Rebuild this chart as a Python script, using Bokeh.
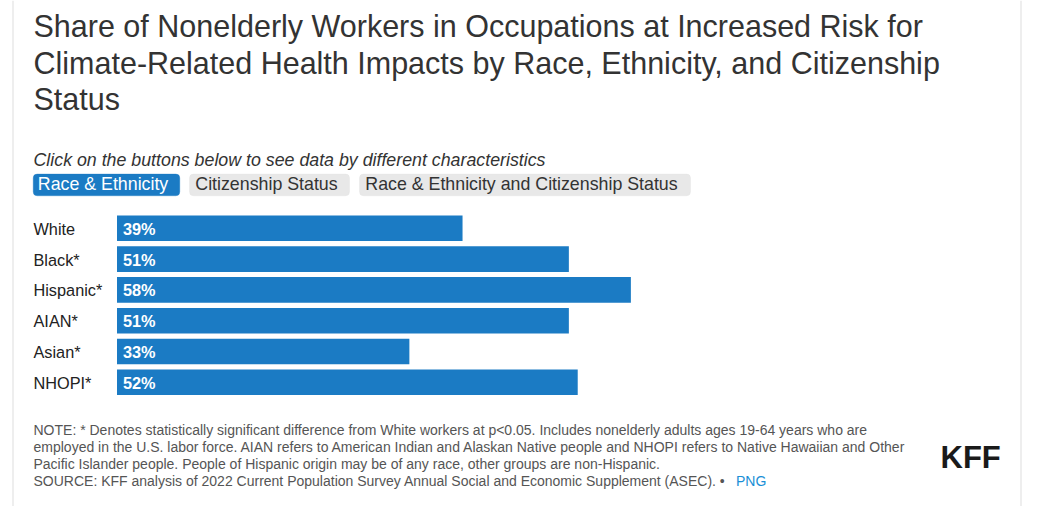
from bokeh.plotting import figure
from bokeh.models import Range1d, BoxAnnotation, Span, ColumnDataSource
from bokeh.core.properties import value
from bokeh.embed import file_html
from bokeh.resources import INLINE

# ---- data ----
categories = ["White", "Black*", "Hispanic*", "AIAN*", "Asian*", "NHOPI*"]
shares = [39, 51, 58, 51, 33, 52]
share_labels = ["39%", "51%", "58%", "51%", "33%", "52%"]

title_lines = [
    "Share of Nonelderly Workers in Occupations at Increased Risk for",
    "Climate-Related Health Impacts by Race, Ethnicity, and Citizenship",
    "Status",
]
subtitle = "Click on the buttons below to see data by different characteristics"
buttons = ["Race & Ethnicity", "Citizenship Status", "Race & Ethnicity and Citizenship Status"]
note_lines = [
    "NOTE: * Denotes statistically significant difference from White workers at p<0.05. Includes nonelderly adults ages 19-64 years who are",
    "employed in the U.S. labor force. AIAN refers to American Indian and Alaskan Native people and NHOPI refers to Native Hawaiian and Other",
    "Pacific Islander people. People of Hispanic origin may be of any race, other groups are non-Hispanic.",
    "SOURCE: KFF analysis of 2022 Current Population Survey Annual Social and Economic Supplement (ASEC). \u2022",
]

# ---- layout constants ----
W, H = 1049, 506
X0 = 116.5          # pixel where 0% sits
S = 8.86            # pixels per percentage point
ROW0 = 227.8        # centre of first bar (pixels from top)
PITCH = 30.8
BAR_H = 25.6
BLUE = "#1b7bc4"
FONT = "Liberation Sans"

p = figure(width=W, height=H, output_backend="svg", toolbar_location=None,
           x_range=Range1d(-X0 / S, (W - X0) / S), y_range=Range1d(H, 0),
           min_border=0, min_border_left=0, min_border_right=0,
           min_border_top=0, min_border_bottom=0)
p.extra_x_ranges = {"px": Range1d(0, W)}
p.axis.visible = False
p.grid.visible = False
p.outline_line_color = None
p.background_fill_color = "white"
p.border_fill_color = "white"

ys = [ROW0 + i * PITCH for i in range(len(categories))]
src = ColumnDataSource(dict(cat=categories, val=shares, lab=share_labels, y=ys,
                            zero=[0] * len(shares)))

p.hbar(y="y", left="zero", right="val", height=BAR_H, source=src,
       fill_color=BLUE, line_color=None)
p.text(x="zero", y="y", text="lab", source=src, x_offset=6, y_offset=0.5,
       text_color="white", text_font=value(FONT), text_font_size="16.3px",
       text_font_style="bold", text_baseline="middle", text_align="left")
p.text(x="zero", y="y", text="cat", source=src, x_offset=33 - X0, y_offset=0.5,
       text_color="#222222", text_font=value(FONT), text_font_size="16.3px",
       text_baseline="middle", text_align="left")


def lab(x, y_base, text, size, color="#333333", style="normal", font=FONT):
    # y_base is the wanted baseline; place the cap-height centre with a middle baseline
    y_mid = y_base - 0.36 * size
    p.text(x=[x], y=[y_mid], text=[text], x_range_name="px",
           text_font=value(font), text_font_size=f"{size}px", text_color=color,
           text_font_style=style, text_baseline="middle", text_align="left")


# frame borders
p.add_layout(Span(location=12.5, dimension="height", location_units="screen",
                  line_color="#dddddd", line_width=1))
p.add_layout(Span(location=1020.5, dimension="height", location_units="screen",
                  line_color="#dddddd", line_width=1))

for i, t in enumerate(title_lines):
    lab(33, 36.7 + i * 36.6, t, 30.5, color="#333333")

lab(33, 166, subtitle, 17.8, color="#333333", style="italic")

# buttons
btn_x = [(32.7, 179.3), (189, 349), (359, 690)]
for i, (b, (l, r)) in enumerate(zip(buttons, btn_x)):
    active = i == 0
    p.add_layout(BoxAnnotation(left=l, right=r, top=H - 173.5, bottom=H - 195.3,
                               left_units="screen", right_units="screen",
                               top_units="screen", bottom_units="screen",
                               fill_color=BLUE if active else "#e8e8e8", fill_alpha=1,
                               line_color=BLUE if active else "#e0e0e0", line_width=1,
                               border_radius=4, level="underlay"))
    lab(l + (4.6 if active else 5.8), 189.5, b, 17.8,
        color="white" if active else "#333333")

NOTE_PITCH = 17.15
for i, t in enumerate(note_lines):
    lab(33, 434.2 + i * NOTE_PITCH, t, 14, color="#555555")
lab(735.5, 434.2 + 3 * NOTE_PITCH, "PNG", 14, color="#1a8fd6")

lab(940, 468.3, "KFF", 31, color="#1a1a1a", style="bold")

open("out.html", "w").write(file_html(p, INLINE))
